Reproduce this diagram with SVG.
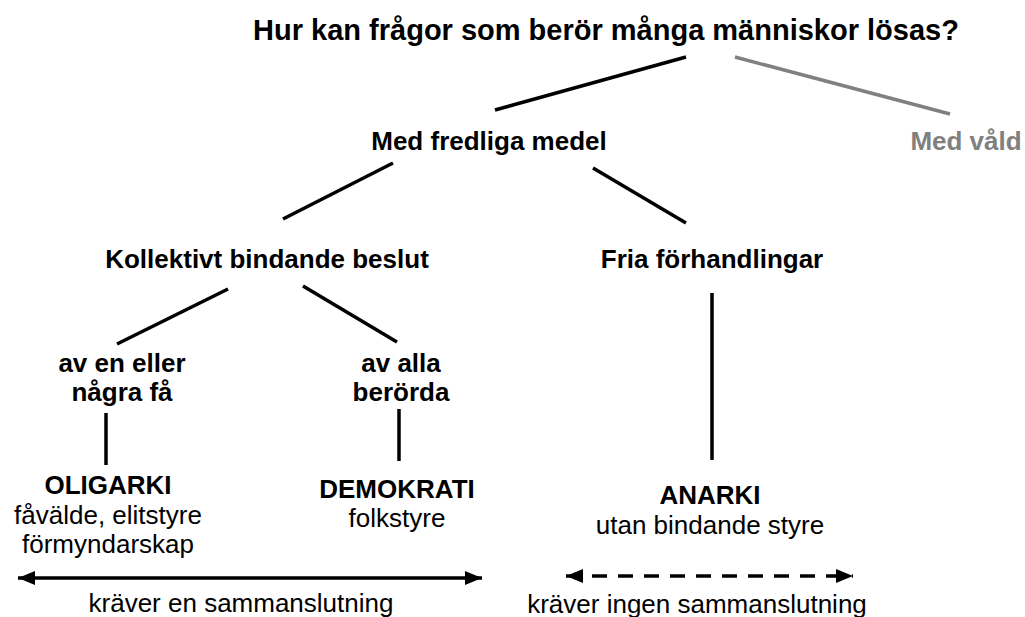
<svg xmlns="http://www.w3.org/2000/svg" width="1025" height="617" viewBox="0 0 1025 617">
<style>
text{font-family:"Liberation Sans",Arial,sans-serif;fill:#000;text-anchor:middle}
.b{font-weight:bold;font-size:26px}
.r{font-size:26px}
.t{font-weight:bold;font-size:29px}
.g{fill:#808080}
.ln{stroke:#000;stroke-width:3.5;fill:none}
.lg{stroke:#808080;stroke-width:3.5;fill:none}
</style>
<defs>
<marker id="ah" markerUnits="userSpaceOnUse" markerWidth="18" markerHeight="16" refX="17" refY="8" orient="auto-start-reverse">
<path d="M0,1 L17,8 L0,15 Z" fill="#000"/>
</marker>
</defs>
<rect width="1025" height="617" fill="#fff"/>
<g id="connectors">
<line class="ln" x1="495" y1="110" x2="686" y2="57"/>
<line class="lg" x1="735" y1="57" x2="950" y2="114"/>
<line class="ln" x1="393" y1="163" x2="283" y2="219"/>
<line class="ln" x1="593" y1="168" x2="686" y2="223"/>
<line class="ln" x1="228" y1="289" x2="117" y2="344"/>
<line class="ln" x1="303" y1="286" x2="397" y2="342"/>
<line class="ln" x1="712" y1="293" x2="712" y2="460"/>
<line class="ln" x1="106" y1="413" x2="106" y2="465"/>
<line class="ln" x1="399" y1="409" x2="399" y2="461"/>
<line class="ln" x1="18" y1="578" x2="482" y2="578" marker-start="url(#ah)" marker-end="url(#ah)"/>
<line class="ln" x1="566" y1="576" x2="853" y2="576" stroke-dasharray="15 11" marker-start="url(#ah)" marker-end="url(#ah)"/>
</g>
<g id="title"><text class="t" x="606" y="40">Hur kan frågor som berör många människor lösas?</text></g>
<g id="fredliga"><text class="b" x="489" y="150">Med fredliga medel</text></g>
<g id="vald"><text class="b g" x="966" y="150">Med våld</text></g>
<g id="kollektivt"><text class="b" x="267" y="268">Kollektivt bindande beslut</text></g>
<g id="fria"><text class="b" x="712" y="268">Fria förhandlingar</text></g>
<g id="fa"><text class="b" x="122" y="372">av en eller</text><text class="b" x="122" y="401">några få</text></g>
<g id="alla"><text class="b" x="401" y="372">av alla</text><text class="b" x="401" y="401">berörda</text></g>
<g id="oligarki"><text class="b" x="108" y="494">OLIGARKI</text><text class="r" x="108" y="524">fåvälde, elitstyre</text><text class="r" x="108" y="553">förmyndarskap</text></g>
<g id="demokrati"><text class="b" x="397" y="498">DEMOKRATI</text><text class="r" x="397" y="527">folkstyre</text></g>
<g id="anarki"><text class="b" x="710" y="504">ANARKI</text><text class="r" x="710" y="534">utan bindande styre</text></g>
<g id="kraver-en"><text class="r" x="241" y="612">kräver en sammanslutning</text></g>
<g id="kraver-ingen"><text class="r" x="697" y="613">kräver ingen sammanslutning</text></g>
</svg>
